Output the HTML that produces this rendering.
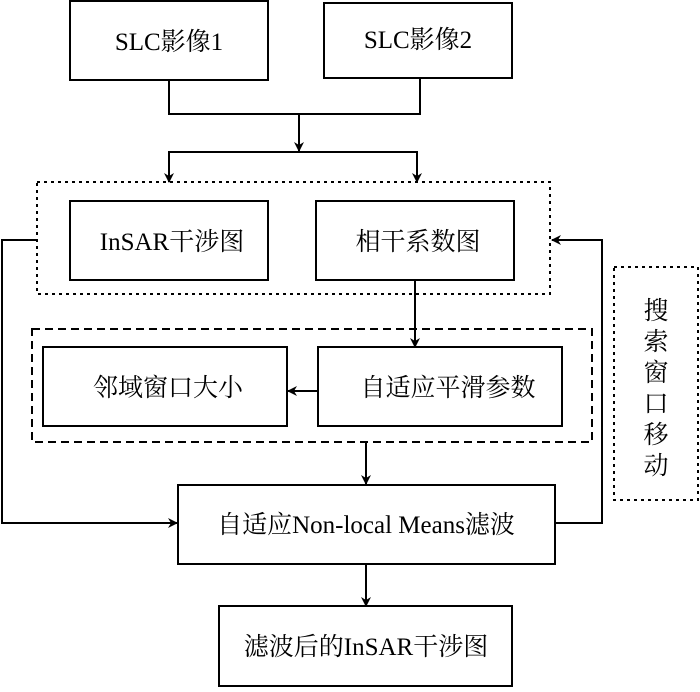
<!DOCTYPE html>
<html><head><meta charset="utf-8"><style>
html,body{margin:0;padding:0;background:#fff;}
svg text{font-family:"Liberation Serif","Noto Serif CJK SC",serif;font-size:25px;fill:#000;}
</style></head><body>
<svg width="700" height="687" viewBox="0 0 700 687" xmlns="http://www.w3.org/2000/svg">
<defs><marker id="a" markerWidth="10" markerHeight="10" refX="9" refY="5" orient="auto" markerUnits="userSpaceOnUse"><path d="M0,0 L10,5 L0,10 L3,5 Z" fill="#000"/></marker></defs>
<g fill="none" stroke="#000" stroke-width="2">
<rect x="70" y="1" width="198" height="79"/>
<rect x="324" y="3" width="188" height="75"/>
<polyline points="169,80 169,114 420,114 420,78"/>
<line x1="299" y1="114" x2="299" y2="151" marker-end="url(#a)"/>
<polyline points="169,182 169,152 417,152 417,182" stroke-width="2"/>
<line x1="169" y1="165" x2="169" y2="182" marker-end="url(#a)"/>
<line x1="417" y1="165" x2="417" y2="182" marker-end="url(#a)"/>
<rect x="37" y="182" width="513" height="112" stroke-dasharray="3,4"/>
<rect x="70" y="201" width="198" height="79"/>
<rect x="316" y="201" width="198" height="79"/>
<line x1="415" y1="280" x2="415" y2="347" marker-end="url(#a)"/>
<rect x="32" y="329" width="560" height="113" stroke-dasharray="8,5"/>
<rect x="43" y="347" width="244" height="79"/>
<rect x="318" y="347" width="244" height="79"/>
<line x1="318" y1="391" x2="288" y2="391" marker-end="url(#a)"/>
<line x1="366" y1="442" x2="366" y2="484" marker-end="url(#a)"/>
<rect x="178" y="485" width="377" height="79"/>
<polyline points="37,240 2,240 2,523 177,523" marker-end="url(#a)"/>
<polyline points="555,523 602,523 602,240 552,240" marker-end="url(#a)"/>
<line x1="366" y1="564" x2="366" y2="606" marker-end="url(#a)"/>
<rect x="219" y="606" width="293" height="80"/>
<rect x="614" y="267" width="84" height="233" stroke-dasharray="3,4"/>
</g>
<text x="169" y="50" text-anchor="middle">SLC影像1</text>
<text x="418" y="48" text-anchor="middle">SLC影像2</text>
<text x="172" y="250" text-anchor="middle">InSAR干涉图</text>
<text x="418" y="250" text-anchor="middle">相干系数图</text>
<text x="168" y="396" text-anchor="middle">邻域窗口大小</text>
<text x="448" y="396" text-anchor="middle">自适应平滑参数</text>
<text x="366" y="533" text-anchor="middle">自适应Non-local Means滤波</text>
<text x="366" y="655" text-anchor="middle">滤波后的InSAR干涉图</text>
<g text-anchor="middle" style="font-size:24px">
<text x="656" y="319">搜</text><text x="656" y="350">索</text><text x="656" y="381">窗</text><text x="656" y="412">口</text><text x="656" y="443">移</text><text x="656" y="474">动</text>
</g>
</svg>
</body></html>
